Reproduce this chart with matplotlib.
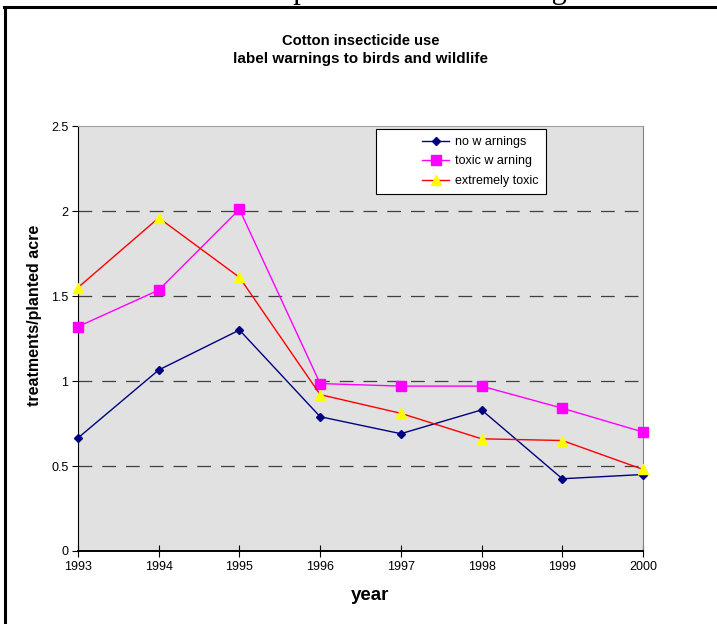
import matplotlib
matplotlib.use("Agg")
from matplotlib import pyplot as plt
from matplotlib.lines import Line2D
from matplotlib.legend_handler import HandlerLine2D

plt.rcParams['font.family'] = ['Liberation Sans', 'DejaVu Sans']

years = [1993, 1994, 1995, 1996, 1997, 1998, 1999, 2000]
no_warnings = [0.665, 1.065, 1.30, 0.79, 0.69, 0.83, 0.425, 0.45]
toxic_warning = [1.32, 1.535, 2.01, 0.985, 0.97, 0.97, 0.84, 0.70]
extremely_toxic = [1.55, 1.96, 1.61, 0.92, 0.81, 0.66, 0.65, 0.48]
yticks = [0, 0.5, 1, 1.5, 2, 2.5]
ytick_labels = ['0', '0.5', '1', '1.5', '2', '2.5']


class RightHandler(HandlerLine2D):
    # excel style legend: blank space left of the sample line
    def create_artists(self, legend, orig_handle, xdescent, ydescent, width,
                       height, fontsize, trans):
        shift = width * 0.6
        return super().create_artists(legend, orig_handle, xdescent - shift,
                                      ydescent, width - shift, height,
                                      fontsize, trans)


fig = plt.figure(figsize=(7.17, 6.24), dpi=100)
ax = fig.add_axes([0.1088, 0.1170, 0.788, 0.681])

# frame around the chart (page crop)
fig.add_artist(Line2D([0.006, 1.0], [0.9895, 0.9895], transform=fig.transFigure,
                      color='black', lw=2.2))
fig.add_artist(Line2D([0.0070, 0.0070], [0.0, 0.9895], transform=fig.transFigure,
                      color='black', lw=2.2))
# caption of the page, cut off above the frame
fig.text(0.0740, 1.0032, 'Insecticide use compared to label warnings',
         ha='left', va='baseline', fontsize=22, family=['Liberation Serif'])

ax.set_facecolor('#E1E1E1')
for y in [0.5, 1, 1.5, 2]:
    ax.axhline(y, color='#404040', lw=0.9, ls=(0, (11, 8)), zorder=1)

ax.plot(years, no_warnings, color='#000080', lw=1, marker='D', ms=4.5,
        mfc='#000080', mec='#000080', label='no w arnings', zorder=3, clip_on=False)
ax.plot(years, toxic_warning, color='#FF00FF', lw=1, marker='s', ms=6.5,
        mfc='#FF00FF', mec='#FF00FF', label='toxic w arning', zorder=3, clip_on=False)
ax.plot(years, extremely_toxic, color='#FF0000', lw=1, marker='^', ms=6.5,
        mfc='#FFFF00', mec='#FFFF00', label='extremely toxic', zorder=4, clip_on=False)

ax.set_xlim(1993, 2000)
ax.set_ylim(0, 2.5)
ax.set_xticks(years)
ax.set_xticklabels([str(y) for y in years], fontsize=9)
ax.set_yticks(yticks)
ax.set_yticklabels(ytick_labels, fontsize=9)
ax.tick_params(axis='x', direction='inout', length=8, width=0.8, pad=3)
ax.tick_params(axis='y', direction='out', length=4, width=0.8, pad=3)

ax.spines['left'].set_color('black')
ax.spines['bottom'].set_color('black')
ax.spines['bottom'].set_linewidth(1.4)
ax.spines['right'].set_color('#808080')
ax.spines['top'].set_color('#A0A0A0')

ax.set_xlabel('year', fontsize=13.5, fontweight='bold')
ax.xaxis.set_label_coords(0.517, -0.085)
ax.set_ylabel('treatments/planted acre', fontsize=11.5, fontweight='bold')
ax.yaxis.set_label_coords(-0.064, 0.555)

fig.text(0.503, 0.935, 'Cotton insecticide use', ha='center', va='center',
         fontsize=10.6, fontweight='bold')
fig.text(0.503, 0.906, 'label warnings to birds and wildlife', ha='center', va='center',
         fontsize=11, fontweight='bold')

leg = ax.legend(loc='upper left', bbox_to_anchor=(0.527, 0.993), fontsize=9,
                frameon=True, fancybox=False, edgecolor='black', framealpha=1,
                borderpad=0.55, labelspacing=0.6, handlelength=5.3,
                borderaxespad=0, handletextpad=0.5,
                handler_map={Line2D: RightHandler()})
leg.get_frame().set_linewidth(0.8)

plt.savefig('out.png', dpi=100)
plt.close()
